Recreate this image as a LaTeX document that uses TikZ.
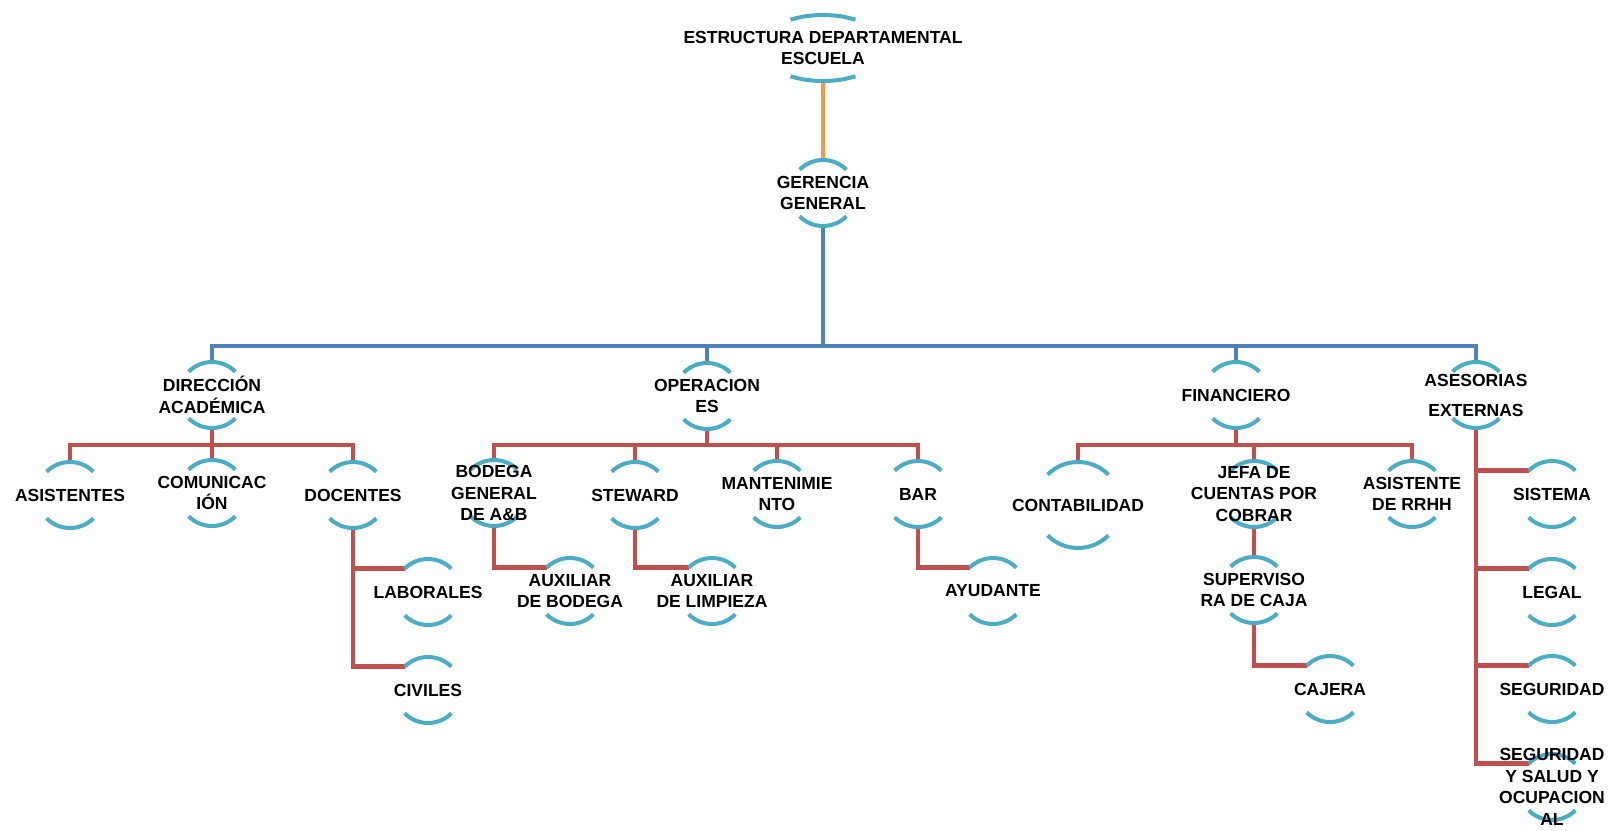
\documentclass[tikz,border=0pt]{standalone}
\usepackage{fontspec}
\setmainfont{Liberation Sans}
\usepackage{xcolor}
\usepackage{tikz}
\usetikzlibrary{calc}
\usetikzlibrary{backgrounds}

\definecolor{ArcBlue}{RGB}{75,172,198}
\definecolor{BusBlue}{RGB}{79,129,189}
\definecolor{LinkRed}{RGB}{192,80,77}
\definecolor{LinkOrange}{RGB}{247,150,70}

\begin{document}
\begin{tikzpicture}[
		%Global config
		x=1pt, y=1pt,
		line join=miter,
		%Styles
		Box/.style={
			align=center,
			inner sep=0pt,
			text=black,
			font=\fontsize{17.5}{21.5}\selectfont\bfseries,
		},
		Rim/.style={
			line width=4pt,
			color=ArcBlue,
		},
		BlueLink/.style={line width=4.5pt, color=BusBlue},
		RedLink/.style={line width=4.5pt, color=LinkRed},
		OrangeLink/.style={line width=4pt, color=LinkOrange},
		]
	\useasboundingbox (0,0) rectangle (1611,-830);

	% head
	\node[Box] (Top) at (823,-48) {ESTRUCTURA DEPARTAMENTAL\\ESCUELA};
	\node[Box] (Ger) at (823,-193) {GERENCIA\\GENERAL};

	% departments
	\node[Box] (Dir) at (212,-395) {DIRECCIÓN\\ACADÉMICA};
	\node[Box] (Ope) at (707,-396) {OPERACION\\ES};
	\node[Box] (Fin) at (1236,-395) {FINANCIERO};
	\node[Box] (Ase) at (1476,-395) {ASESORIAS\\[8.5pt]EXTERNAS};

	% third row
	\node[Box] (Asi) at (70,-495) {ASISTENTES};
	\node[Box] (Com) at (212,-493) {COMUNICAC\\IÓN};
	\node[Box] (Doc) at (353,-495) {DOCENTES};
	\node[Box] (Bod) at (494,-493) {BODEGA\\GENERAL\\DE A\&B};
	\node[Box] (Ste) at (635,-495) {STEWARD};
	\node[Box] (Man) at (777,-494) {MANTENIMIE\\NTO};
	\node[Box] (Bar) at (918,-494) {BAR};
	\node[Box] (Con) at (1078,-505) {CONTABILIDAD};
	\node[Box] (Jef) at (1254,-494) {JEFA DE\\CUENTAS POR\\COBRAR};
	\node[Box] (Rrh) at (1412,-494) {ASISTENTE\\DE RRHH};
	\node[Box] (Sis) at (1552,-494) {SISTEMA};

	% lower rows
	\node[Box] (Lab) at (428,-592) {LABORALES};
	\node[Box] (Civ) at (428,-690) {CIVILES};
	\node[Box] (AuxB) at (570,-591) {AUXILIAR\\DE BODEGA};
	\node[Box] (AuxL) at (712,-591) {AUXILIAR\\DE LIMPIEZA};
	\node[Box] (Ayu) at (993,-591) {AYUDANTE};
	\node[Box] (Sup) at (1254,-590) {SUPERVISO\\RA DE CAJA};
	\node[Box] (Caj) at (1330,-689) {CAJERA};
	\node[Box] (Leg) at (1552,-592) {LEGAL};
	\node[Box] (Seg) at (1552,-689) {SEGURIDAD};
	\node[Box] (Sso) at (1552,-787) {SEGURIDAD\\Y SALUD Y\\OCUPACION\\AL};

	\begin{scope}[on background layer]
		% connectors
		\draw[OrangeLink] ($(Top)+(0,-35)$) -- ($(Ger)+(0,33)$);
		\draw[BlueLink] ($(Ger)+(0,-33)$) -- ($(Ger)+(0,-153)$);
		\foreach \c in {Dir,Ope,Fin,Ase}
			\draw[BlueLink] ($(\c)+(0,33)$) |- ($(Ger)+(0,-153)$);

		\draw[RedLink] ($(Dir)+(0,-33)$) -- ($(Dir)+(0,-50)$);
		\foreach \c in {Asi,Com,Doc}
			\draw[RedLink] ($(\c)+(0,33)$) |- ($(Dir)+(0,-50)$);
		\draw[RedLink] ($(Ope)+(0,-33)$) -- ($(Ope)+(0,-49)$);
		\foreach \c in {Bod,Ste,Man,Bar}
			\draw[RedLink] ($(\c)+(0,33)$) |- ($(Ope)+(0,-49)$);
		\draw[RedLink] ($(Fin)+(0,-33)$) -- ($(Fin)+(0,-50)$);
		\foreach \c in {Jef,Rrh}
			\draw[RedLink] ($(\c)+(0,33)$) |- ($(Fin)+(0,-50)$);
		\draw[RedLink] ($(Con)+(0,43)$) |- ($(Fin)+(0,-50)$);

		\foreach \p/\c in {Doc/Lab,Doc/Civ,Bod/AuxB,Ste/AuxL,Bar/Ayu,Sup/Caj,Ase/Sis,Ase/Leg,Ase/Seg,Ase/Sso}
			\draw[RedLink] ($(\p)+(0,-33)$) |- ($(\c)+(135:33pt)$);
		\draw[RedLink] ($(Jef)+(0,-33)$) -- ($(Sup)+(0,33)$);

		% arcs round the texts
		\draw[Rim] ($(Top)+(59:63pt and 33pt)$) arc[start angle=59,end angle=121,x radius=63pt,y radius=33pt]
			($(Top)+(239:63pt and 33pt)$) arc[start angle=239,end angle=301,x radius=63pt,y radius=33pt];
		\draw[Rim] ($(Con)+(45:43pt)$) arc[start angle=45,end angle=135,radius=43pt]
			($(Con)+(225:43pt)$) arc[start angle=225,end angle=315,radius=43pt];
		\foreach \n in {Ger,Dir,Ope,Fin,Ase,Asi,Com,Doc,Bod,Ste,Man,Bar,Jef,Rrh,Sis,Lab,Civ,AuxB,AuxL,Ayu,Sup,Caj,Leg,Seg,Sso}
			\draw[Rim] ($(\n)+(45:33pt)$) arc[start angle=45,end angle=135,radius=33pt]
				($(\n)+(225:33pt)$) arc[start angle=225,end angle=315,radius=33pt];
	\end{scope}
\end{tikzpicture}
\end{document}
